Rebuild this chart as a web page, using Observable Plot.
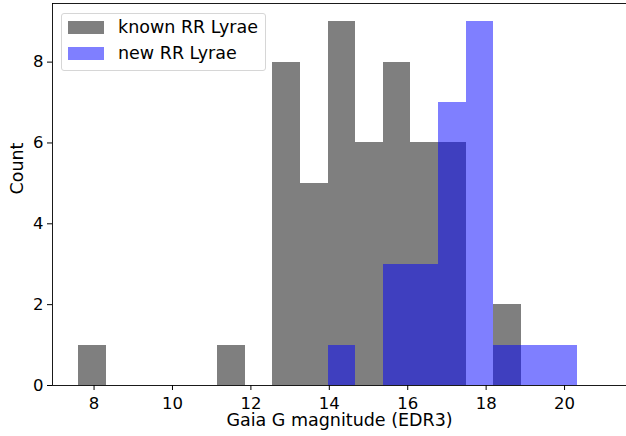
<!DOCTYPE html>
<html>
<head>
<meta charset="utf-8">
<script src="https://cdn.jsdelivr.net/npm/d3@7"></script>
<script src="https://cdn.jsdelivr.net/npm/@observablehq/plot@0.6"></script>
<style>
  html, body { margin: 0; padding: 0; background: #fff; }
  #wrap { position: relative; width: 626px; height: 436px; font-family: "DejaVu Sans", sans-serif; }
  #legend { position: absolute; left: 61px; top: 13px; width: 203px; height: 56px;
    border: 1px solid #d6d6d6; border-radius: 3px; background: rgba(255,255,255,0.8); }
  .item { position: absolute; left: 6px; height: 14px; font-size: 17.5px; color: #000; white-space: nowrap; }
  .sw { position: absolute; left: 0; top: 0; width: 36px; height: 13px; }
  .lab { position: absolute; left: 50px; top: -4px; line-height: 20px; }
</style>
</head>
<body>
<div id="wrap">
  <div id="chart"></div>
  <div id="legend"></div>
</div>
<script>
// Bin edges (Gaia G magnitude), shared by both histograms
const binEdges = [7.61, 8.32, 9.02, 9.73, 10.43, 11.14, 11.85, 12.55, 13.26, 13.97,
                  14.67, 15.38, 16.08, 16.79, 17.50, 18.20, 18.91, 19.61, 20.32, 21.02];
// Counts per bin
const knownCounts = [1, 0, 0, 0, 0, 1, 0, 8, 5, 9, 6, 8, 6, 6, 0, 2, 0, 0, 0];
const newCounts   = [0, 0, 0, 0, 0, 0, 0, 0, 0, 1, 0, 3, 3, 7, 9, 1, 1, 1, 0];
const seriesNames = ["known RR Lyrae", "new RR Lyrae"];
const seriesColors = ["rgba(0,0,0,0.5)", "rgba(0,0,255,0.5)"];
const xTicks = [8, 10, 12, 14, 16, 18, 20];
const yTicks = [0, 2, 4, 6, 8];
const xLabel = "Gaia G magnitude (EDR3)";
const yLabel = "Count";
const xDomain = [6.94, 21.58];
const yDomain = [0, 9.45];

const toRows = counts => counts.map((c, i) => ({x1: binEdges[i], x2: binEdges[i + 1], y: c}));
const knownRows = toRows(knownCounts);
const newRows = toRows(newCounts);

const font = "DejaVu Sans, sans-serif";
const chart = Plot.plot({
  width: 626,
  height: 436,
  marginLeft: 52,
  marginRight: 0,
  marginTop: 3,
  marginBottom: 51,
  style: {fontFamily: font, fontSize: "16.5px", color: "#000", background: "#fff"},
  x: {domain: xDomain},
  y: {domain: yDomain},
  marks: [
    Plot.rectY(knownRows, {x1: "x1", x2: "x2", y1: 0, y2: "y", fill: "#000", fillOpacity: 0.5, inset: 0, shapeRendering: "crispEdges"}),
    Plot.rectY(newRows, {x1: "x1", x2: "x2", y1: 0, y2: "y", fill: "#0000ff", fillOpacity: 0.5, inset: 0, shapeRendering: "crispEdges"}),
    Plot.ruleY([yDomain[0]], {stroke: "#000", strokeWidth: 0.9}),
    Plot.ruleY([yDomain[1]], {stroke: "#000", strokeWidth: 0.9}),
    Plot.ruleX([xDomain[0]], {stroke: "#000", strokeWidth: 0.9}),
    Plot.axisX({ticks: xTicks, tickSize: 5, tickPadding: 7, label: null, fontSize: 16.5}),
    Plot.axisY({ticks: yTicks, tickSize: 5, tickPadding: 4, label: null, fontSize: 16.5}),
    Plot.text([xLabel], {frameAnchor: "bottom", dy: 40, fontSize: 17.5, fill: "#000"}),
    Plot.text([yLabel], {frameAnchor: "left", dx: -35, rotate: -90, fontSize: 17.5, fill: "#000"})
  ]
});
document.getElementById("chart").appendChild(chart);

const legend = document.getElementById("legend");
seriesNames.forEach((name, i) => {
  const item = document.createElement("div");
  item.className = "item";
  item.style.top = (7 + i * 26) + "px";
  item.innerHTML = `<div class="sw" style="background:${seriesColors[i]}"></div><div class="lab">${name}</div>`;
  legend.appendChild(item);
});
</script>
</body>
</html>
